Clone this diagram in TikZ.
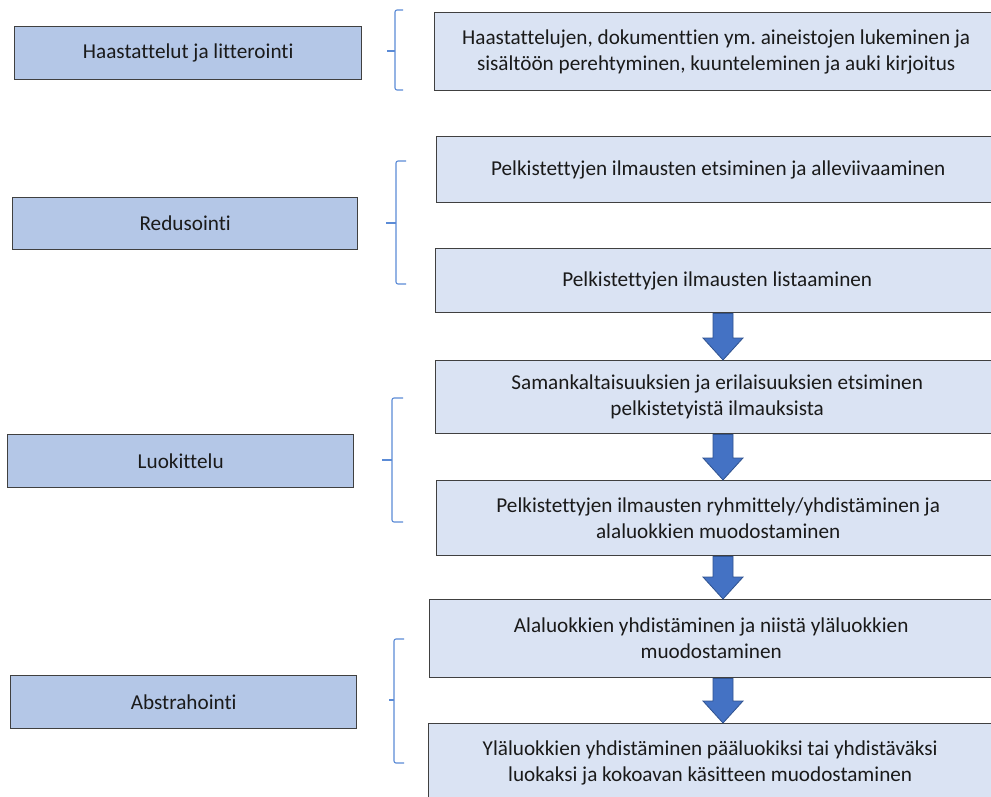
\documentclass[tikz,border=0pt]{standalone}
\usepackage{fontspec}
\setmainfont[Ligatures=NoCommon]{Carlito}
\usetikzlibrary{calc}
\frenchspacing
\definecolor{stagefill}{HTML}{B4C7E7}
\definecolor{stepfill}{HTML}{DAE3F3}
\definecolor{boxline}{HTML}{404040}
\definecolor{bracecol}{HTML}{5B8BD6}
\definecolor{arrowfill}{HTML}{4472C4}
\definecolor{arrowline}{HTML}{2F528F}
\definecolor{txt}{HTML}{1A1A1A}
\tikzset{
  stagebox/.style={draw=boxline, line width=1.4pt, fill=stagefill, text=txt,
    font=\fontsize{21.2}{26}\selectfont, inner sep=0pt},
  stepbox/.style={draw=boxline, line width=1.4pt, fill=stepfill, text=txt,
    font=\fontsize{21.2}{26}\selectfont, inner sep=0pt, align=center},
  bracepath/.style={draw=bracecol, line width=1.1pt, rounded corners=2pt},
  barrow/.style={fill=arrowfill, draw=arrowline, line width=0.8pt, line join=miter},
}
% block arrow from the bottom of one box to the top of the next
\newcommand\flowarrow[2]{%
  \draw[barrow] let \p1=(#1.south), \p2=(#2.north) in
    (713pt,\y1) -- (733pt,\y1) -- (733pt,{\y2+22pt}) -- (743pt,{\y2+22pt})
    -- (723pt,\y2) -- (703pt,{\y2+22pt}) -- (713pt,{\y2+22pt}) -- cycle;}
% curly bracket: x of spine, x of hooks, x of tip, top, bottom, tip y
\newcommand\groupbrace[6]{%
  \draw[bracepath] (#2,#4) -- (#1,#4) -- (#1,#5) -- (#2,#5);
  \draw[draw=bracecol, line width=1.1pt] (#1,#6) -- (#3,#6);}
\begin{document}
\begin{tikzpicture}[x=1pt,y=-1pt]
\clip (0,0) rectangle (991,796);
\fill[white] (0,0) rectangle (991,796);

% stages on the left
\node[stagebox, minimum width=347pt, minimum height=53pt, anchor=north west] (haast) at (14,26) {Haastattelut ja litterointi};
\node[stagebox, minimum width=345pt, minimum height=52pt, anchor=north west] (redu) at (12,197) {Redusointi};
\node[stagebox, minimum width=346pt, minimum height=53pt, anchor=north west] (luok) at (7,434) {Luokittelu};
\node[stagebox, minimum width=346pt, minimum height=53pt, anchor=north west] (abst) at (10,675) {Abstrahointi};

% steps on the right
\node[stepbox, minimum width=563pt, minimum height=78pt, anchor=north west] (s1) at (434,12)
  {Haastattelujen, dokumenttien ym. aineistojen lukeminen ja\\sisältöön perehtyminen, kuunteleminen ja auki kirjoitus};
\node[stepbox, minimum width=563pt, minimum height=66pt, anchor=north west] (s2) at (436,136)
  {Pelkistettyjen ilmausten etsiminen ja alleviivaaminen};
\node[stepbox, minimum width=563pt, minimum height=64pt, anchor=north west] (s3) at (435,248)
  {Pelkistettyjen ilmausten listaaminen};
\node[stepbox, minimum width=563pt, minimum height=73pt, anchor=north west] (s4) at (435,360)
  {Samankaltaisuuksien ja erilaisuuksien etsiminen\\pelkistetyistä ilmauksista};
\node[stepbox, minimum width=563pt, minimum height=75pt, anchor=north west] (s5) at (436,480)
  {Pelkistettyjen ilmausten ryhmittely/yhdistäminen ja\\alaluokkien muodostaminen};
\node[stepbox, minimum width=563pt, minimum height=78pt, anchor=north west] (s6) at (429,599)
  {Alaluokkien yhdistäminen ja niistä yläluokkien\\muodostaminen};
\node[stepbox, minimum width=563pt, minimum height=78pt, anchor=north west] (s7) at (428,723)
  {Yläluokkien yhdistäminen pääluokiksi tai yhdistäväksi\\luokaksi ja kokoavan käsitteen muodostaminen};

% arrows between the steps
\flowarrow{s3}{s4}
\flowarrow{s4}{s5}
\flowarrow{s5}{s6}
\flowarrow{s6}{s7}

% brackets grouping the steps of each stage
\groupbrace{395}{403}{387}{10}{90}{51}
\groupbrace{396}{406}{386}{161}{284}{223}
\groupbrace{392}{403}{382}{398}{522}{460}
\groupbrace{394}{404}{389}{639}{763}{700}
\end{tikzpicture}
\end{document}
